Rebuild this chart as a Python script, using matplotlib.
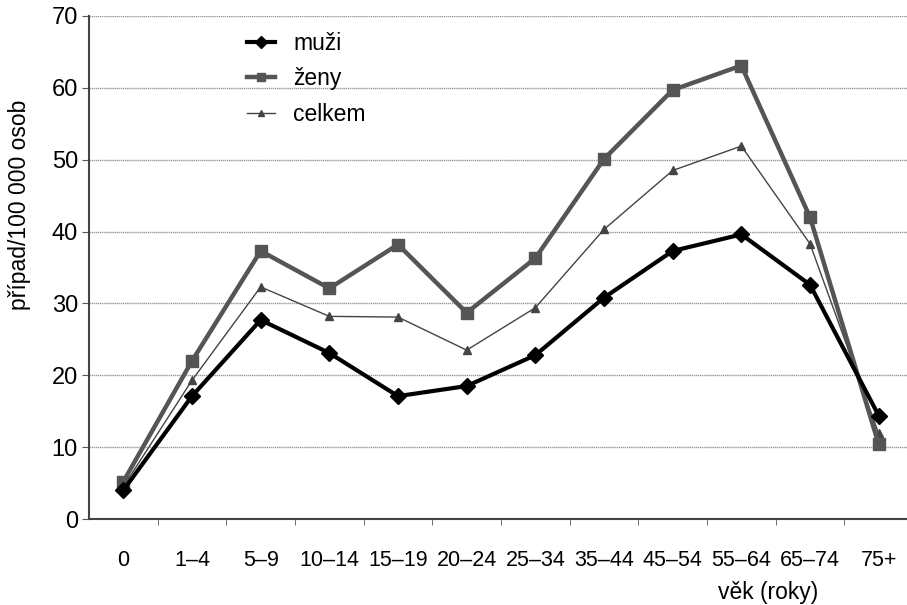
import matplotlib.pyplot as plt
import numpy as np

plt.rcParams['font.family'] = ['Liberation Sans', 'DejaVu Sans']

# age groups and rates per 100 000 persons
vek = ["0", "1–4", "5–9", "10–14", "15–19", "20–24", "25–34",
       "35–44", "45–54", "55–64", "65–74", "75+"]
muzi = [4.0, 17.1, 27.7, 23.1, 17.1, 18.5, 22.8, 30.8, 37.3, 39.6, 32.6, 14.4]
zeny = [5.2, 22.0, 37.3, 32.1, 38.2, 28.7, 36.3, 50.1, 59.7, 63.1, 42.0, 10.4]
celkem = [4.5, 19.3, 32.3, 28.2, 28.1, 23.5, 29.4, 40.3, 48.5, 51.9, 38.3, 11.9]

fig = plt.figure(figsize=(9.07, 6.05), dpi=100)
ax = fig.add_axes([89 / 907, 1 - 519 / 605, 824 / 907, 503 / 605])

x = np.arange(len(vek))
ax.plot(x, celkem, color='#444444', lw=1.0, marker='^', ms=6, label='celkem', zorder=3)
ax.plot(x, zeny, color='#555555', lw=3.2, marker='s', ms=8, label='ženy', zorder=4)
ax.plot(x, muzi, color='black', lw=3.0, marker='D', ms=8, label='muži', zorder=5)

ax.set_xlim(-0.5, 11.5)
ax.set_ylim(0, 70)
ax.set_yticks(range(0, 71, 10))
ax.grid(axis='y', color='#999999', lw=1.0, ls=(0, (1, 0.5)))
ax.set_axisbelow(True)

ax.set_xticks(x)
ax.set_xticklabels(vek)
ax.set_xticks(x[:-1] + 0.5, minor=True)
ax.tick_params(axis='x', which='major', length=0, pad=22, labelsize=15.5)
ax.tick_params(axis='x', which='minor', length=4, direction='out', color='#555555')
ax.tick_params(axis='y', length=5, direction='out', labelsize=17, pad=3, color='#555555')

for s in ['top', 'right']:
    ax.spines[s].set_visible(False)
ax.spines['left'].set_color('#444444')
ax.spines['left'].set_linewidth(1.5)
ax.spines['bottom'].set_color('#444444')
ax.spines['bottom'].set_linewidth(1.5)

handles, labels = ax.get_legend_handles_labels()
order = [2, 1, 0]
ax.legend([handles[i] for i in order], [labels[i] for i in order],
          loc='upper left', bbox_to_anchor=(0.167, 1.01), frameon=False,
          fontsize=16.5, labelspacing=0.55, handlelength=1.2, handletextpad=0.8,
          markerscale=0.75)

fig.text(20 / 907, 1 - 205 / 605, 'případ/100 000 osob', rotation=90,
         ha='center', va='center', fontsize=16.5)
fig.text(768 / 907, 1 - 592 / 605, 'věk (roky)', ha='center', va='center', fontsize=16.5)

fig.savefig('out.png', dpi=100)
